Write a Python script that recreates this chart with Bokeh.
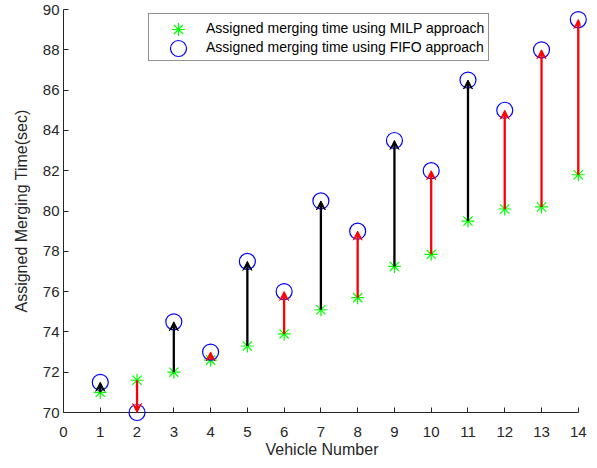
from bokeh.plotting import figure
from bokeh.models import (ColumnDataSource, Range1d, Arrow, VeeHead, Legend,
                          LegendItem, FixedTicker)
from bokeh.embed import file_html
from bokeh.resources import INLINE

vehicles = [1, 2, 3, 4, 5, 6, 7, 8, 9, 10, 11, 12, 13, 14]
milp_times = [71.0, 71.6, 72.0, 72.6, 73.3, 73.9, 75.1, 75.7, 77.25, 77.85, 79.5, 80.1, 80.2, 81.8]
fifo_times = [71.5, 70.0, 74.5, 73.0, 77.5, 76.0, 80.5, 79.0, 83.5, 82.0, 86.5, 85.0, 88.0, 89.5]
arrow_group = ["A", "B", "A", "B", "A", "B", "A", "B", "A", "B", "A", "B", "B", "B"]
legend_labels = ["Assigned merging time using MILP approach",
                 "Assigned merging time using FIFO approach"]
x_ticks = list(range(0, 15))
y_ticks = list(range(70, 91, 2))

FONT = "Liberation Sans"
TXT = "#262626"
W, H = 589, 460
BL, BR, BT, BB = 63, 9, 9, 48
FH = H - BT - BB

p = figure(width=W, height=H, output_backend="svg", toolbar_location=None,
           x_range=Range1d(0, 14.06), y_range=Range1d(70, 90),
           min_border_left=BL, min_border_right=BR, min_border_top=BT, min_border_bottom=BB)
p.grid.visible = False
p.outline_line_color = None

for ax in (p.xaxis[0], p.yaxis[0]):
    ax.major_tick_in = 5
    ax.major_tick_out = 0
    ax.minor_tick_line_color = None
    ax.axis_line_color = TXT
    ax.major_tick_line_color = TXT
    ax.major_label_text_font = FONT
    ax.major_label_text_font_size = "15px"
    ax.major_label_text_color = TXT
    ax.axis_label_text_font = FONT
    ax.axis_label_text_font_size = "16px"
    ax.axis_label_text_font_style = "normal"
    ax.axis_label_text_color = TXT

p.xaxis.bounds = (x_ticks[0], x_ticks[-1])
p.xaxis.ticker = FixedTicker(ticks=x_ticks)
p.yaxis.ticker = FixedTicker(ticks=y_ticks)
p.xaxis.axis_label = "Vehicle Number"
p.yaxis.axis_label = "Assigned Merging Time(sec)"
p.xaxis.major_label_standoff = 14
p.xaxis.axis_label_standoff = 1
p.yaxis.major_label_standoff = 4
p.yaxis.axis_label_standoff = 10

for grp, col in (("A", "black"), ("B", "red")):
    idx = [i for i, g in enumerate(arrow_group) if g == grp]
    src = ColumnDataSource(dict(
        x0=[vehicles[i] for i in idx], y0=[milp_times[i] for i in idx],
        x1=[vehicles[i] for i in idx], y1=[fifo_times[i] for i in idx]))
    p.add_layout(Arrow(source=src, x_start="x0", y_start="y0", x_end="x1", y_end="y1",
                       line_color=col, line_width=2.3, level="overlay",
                       end=VeeHead(size=9, line_color=col, fill_color=col, line_width=1)))

r1 = p.scatter(vehicles, milp_times, marker="asterisk", size=13,
               line_color="#00ff00", line_width=1.2, level="overlay")
r2 = p.scatter(vehicles, fifo_times, marker="circle", size=16,
               line_color="#0000ff", fill_color=None, line_width=1.2, level="overlay")

# framed legend box with the texts
leg_box = Legend(items=[LegendItem(label=legend_labels[0], renderers=[]),
                        LegendItem(label=legend_labels[1], renderers=[])],
                 location=(85, FH - 6 - 46), orientation="vertical",
                 label_text_font=FONT, label_text_font_size="14px", label_text_color="#000000",
                 glyph_width=52, glyph_height=19, label_height=19, label_standoff=1,
                 spacing=0, padding=(4, 4), margin=0,
                 border_line_color=TXT, border_line_width=1, background_fill_alpha=1)
p.add_layout(leg_box, "center")

# larger legend symbols on top of the box
for rend, gsize, cy in ((r1, 32, 28.5 - BT), (r2, 40, 47.5 - BT)):
    leg_sym = Legend(items=[LegendItem(label="", renderers=[rend])],
                     location=(178 - BL - gsize / 2, FH - cy - gsize / 2),
                     glyph_width=gsize, glyph_height=gsize, label_height=0, label_width=0,
                     label_standoff=0, spacing=0, padding=0, margin=0,
                     label_text_font_size="1px",
                     border_line_color=None, background_fill_alpha=0)
    p.add_layout(leg_sym, "center")

open("out.html", "w").write(file_html(p, INLINE))
